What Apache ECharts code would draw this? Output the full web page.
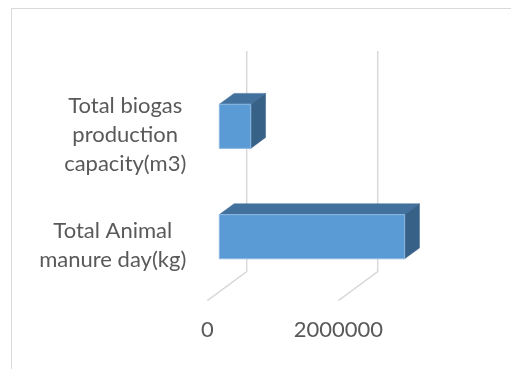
<!DOCTYPE html>
<html>
<head>
<meta charset="utf-8">
<script src="https://cdn.jsdelivr.net/npm/echarts@6/dist/echarts.min.js"></script>
<style>
  html, body { margin: 0; padding: 0; background: #fff; }
  #chart { width: 511px; height: 369px; }
</style>
</head>
<body>
<div id="chart"></div>
<script>
// Categories listed bottom to top (horizontal bar order)
const categories = ['Total Animal\nmanure day(kg)', 'Total biogas\nproduction\ncapacity(m3)'];
const values = [2830000, 480000];
const tickValues = [0, 2000000];
const axisMax = 3000000;

// oblique depth vector of the floor (back wall -> front edge), in pixels
const DEPTH = [-39.4, 29];
const BAR_BACK = 0.32;   // bar back face, as fraction of depth
const BAR_FRONT = 0.695; // bar front face
const BAR_HALF = 0.2;    // half bar thickness as fraction of band

const textColor = '#595959';
const fontFamily = 'Lato, "Open Sans", sans-serif';

const chart = echarts.init(document.getElementById('chart'));

function barItem(params, api) {
  const v = api.value(0);
  const c = api.value(1);
  const p0 = api.coord([0, c]);
  const p1 = api.coord([v, c]);
  const band = api.size([0, 1])[1];
  const h = band * BAR_HALF;
  const fx = DEPTH[0] * BAR_FRONT, fy = DEPTH[1] * BAR_FRONT;
  const bx = DEPTH[0] * BAR_BACK, by = DEPTH[1] * BAR_BACK;
  const ftl = [p0[0] + fx, p0[1] - h + fy];
  const ftr = [p1[0] + fx, p1[1] - h + fy];
  const fbr = [p1[0] + fx, p1[1] + h + fy];
  const btl = [p0[0] + bx, p0[1] - h + by];
  const btr = [p1[0] + bx, p1[1] - h + by];
  const bbr = [p1[0] + bx, p1[1] + h + by];
  return {
    type: 'group',
    children: [
      { type: 'polygon', shape: { points: [ftl, ftr, btr, btl] },
        style: { fill: '#41719C', stroke: '#41719C', lineWidth: 0.5 } },
      { type: 'polygon', shape: { points: [ftr, btr, bbr, fbr] },
        style: { fill: '#386187', stroke: '#386187', lineWidth: 0.5 } },
      { type: 'rect', shape: { x: ftl[0], y: ftl[1], width: ftr[0] - ftl[0], height: 2 * h },
        style: { fill: '#5B9BD5', stroke: '#8DB8E2', lineWidth: 1 } }
    ]
  };
}

function gridItem(params, api) {
  const v = api.value(0);
  const band = api.size([0, 1])[1];
  const top = api.coord([v, categories.length - 1])[1] - band / 2;
  const bottom = api.coord([v, 0])[1] + band / 2;
  const x = api.coord([v, 0])[0];
  const lineStyle = { stroke: '#D9D9D9', lineWidth: 1.5, fill: null };
  return {
    type: 'group',
    children: [
      { type: 'polyline',
        shape: { points: [[x, top], [x, bottom], [x + DEPTH[0], bottom + DEPTH[1]]] },
        style: lineStyle }
    ]
  };
}

const option = {
  animation: false,
  backgroundColor: '#ffffff',
  graphic: [{
    type: 'rect',
    shape: { x: 11.5, y: 8.5, width: 700, height: 600 },
    style: { fill: null, stroke: '#D9D9D9', lineWidth: 1 },
    silent: true
  }],
  grid: [
    // back wall
    { left: 246.7, top: 51, width: 196.5, height: 220.7 },
    // front edge of the floor (axis labels)
    { left: 207.3, top: 80, width: 196.5, height: 220.7 }
  ],
  xAxis: [
    { gridIndex: 0, type: 'value', min: 0, max: axisMax, interval: 2000000,
      axisLine: { show: false }, axisTick: { show: false },
      axisLabel: { show: false }, splitLine: { show: false } },
    { gridIndex: 1, type: 'value', min: 0, max: axisMax, interval: 2000000,
      axisLine: { show: false }, axisTick: { show: false }, splitLine: { show: false },
      axisLabel: {
        showMaxLabel: false,
        margin: 18,
        color: textColor, fontFamily: fontFamily, fontSize: 22,
        formatter: (v) => tickValues.indexOf(v) >= 0 ? String(v) : ''
      } }
  ],
  yAxis: [
    { gridIndex: 0, type: 'category', data: categories,
      axisLine: { show: false }, axisTick: { show: false },
      axisLabel: { show: false }, splitLine: { show: false } },
    { gridIndex: 1, type: 'category', data: categories,
      axisLine: { show: false }, axisTick: { show: false }, splitLine: { show: false },
      axisLabel: {
        margin: 21,
        align: 'right',
        formatter: (v) => v.split('\n').map(l => '{c|' + l + '}').join('\n'),
        rich: {
          c: { align: 'center', color: textColor, fontFamily: fontFamily,
               fontSize: 22, lineHeight: 29 }
        }
      } }
  ],
  series: [
    { type: 'custom', xAxisIndex: 0, yAxisIndex: 0, silent: true,
      renderItem: gridItem, data: tickValues.map(v => [v, 0]), z: 1 },
    { type: 'custom', xAxisIndex: 0, yAxisIndex: 0, silent: true,
      renderItem: barItem, data: values.map((v, i) => [v, i]), z: 2 }
  ]
};

chart.setOption(option);
</script>
</body>
</html>
